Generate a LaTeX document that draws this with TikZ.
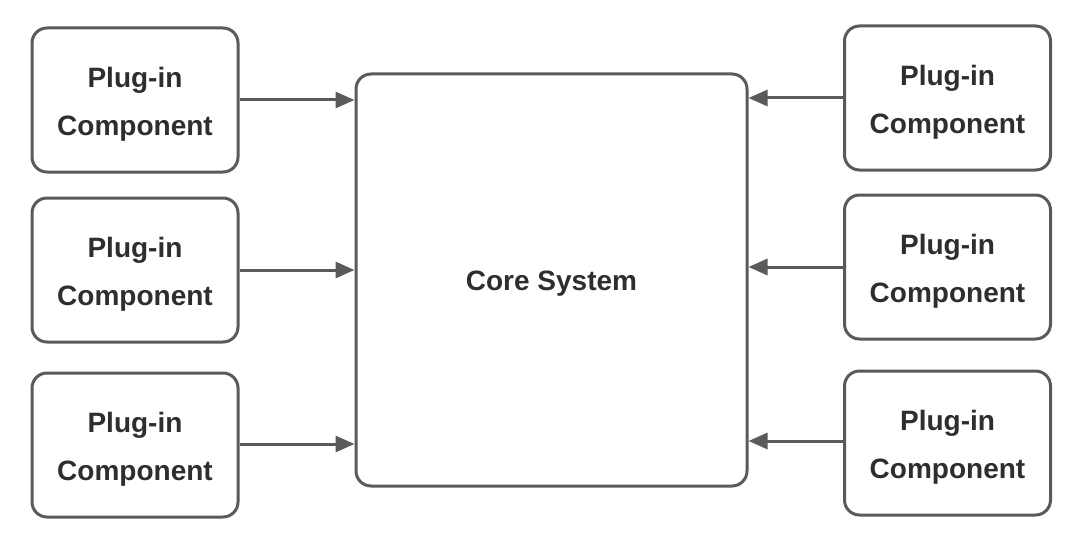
\documentclass[tikz,border=0pt]{standalone}
\usepackage{fontspec}
\setmainfont{Liberation Sans}
\usetikzlibrary{arrows.meta}
\definecolor{lineC}{HTML}{5A5A5A}
\definecolor{textC}{HTML}{2E2E2E}
\begin{document}
\begin{tikzpicture}[x=0.5pt,y=-0.5pt,
  txt/.style={text=textC, font=\fontsize{14pt}{24pt}\selectfont\bfseries, align=center, inner sep=0pt, yshift=-2pt},
  plugbox/.style={draw=lineC, line width=1.5pt, rounded corners=7.5pt, fill=white,
    minimum width=103pt, minimum height=72pt, inner sep=0pt,
    label={[txt]center:Plug-in\\Component}},
  corebox/.style={draw=lineC, line width=1.5pt, rounded corners=7.5pt, fill=white,
    minimum width=195.5pt, minimum height=206pt, inner sep=0pt,
    label={[txt]center:Core System}},
  conn/.style={draw=lineC, line width=1.5pt, -{Triangle[length=9.5pt,width=8pt]}}]
\useasboundingbox (0,0) rectangle (1080,551);
\fill[white] (0,0) rectangle (1080,551);
\node[corebox] (core) at (551.5,280) {};
\node[plugbox] (l1) at (135,100) {};
\node[plugbox] (l2) at (135,270) {};
\node[plugbox] (l3) at (135,445) {};
\node[plugbox] (r1) at (947.5,98) {};
\node[plugbox] (r2) at (947.5,267) {};
\node[plugbox] (r3) at (947.5,443) {};
\draw[conn] (l1.east) -- (l1.east -| core.west);
\draw[conn] (l2.east) -- (l2.east -| core.west);
\draw[conn] (l3.east |- 0,444) -- (core.west |- 0,444);
\draw[conn] (r1.west) -- (r1.west -| core.east);
\draw[conn] (r2.west) -- (r2.west -| core.east);
\draw[conn] (r3.west |- 0,441) -- (core.east |- 0,441);
\end{tikzpicture}
\end{document}
